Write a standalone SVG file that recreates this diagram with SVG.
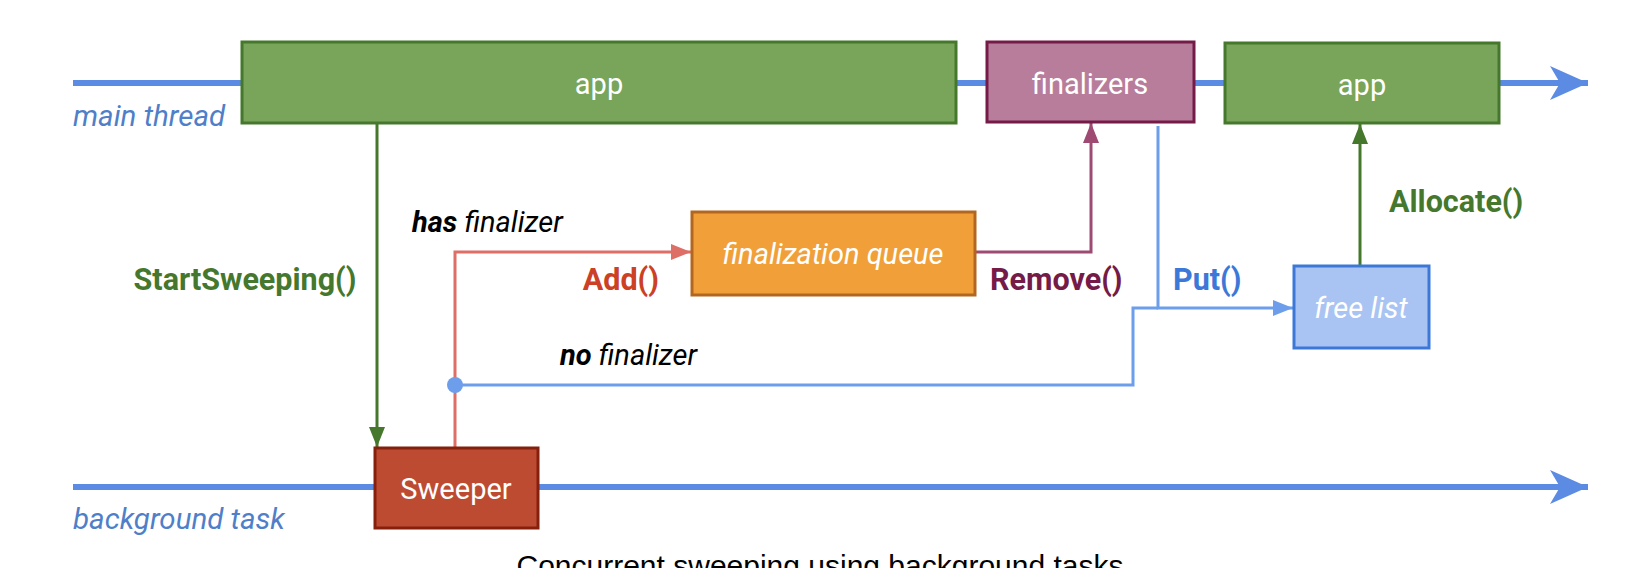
<svg xmlns="http://www.w3.org/2000/svg" width="1632" height="568" viewBox="0 0 1632 568">
<defs>
<style>
text{font-family:Roboto,"Liberation Sans",sans-serif;font-size:29px}
.box-label{fill:#ffffff;text-anchor:middle}
.it{font-style:italic}
.b{font-weight:bold;font-size:30.5px}
.lane{fill:#4f7fc8;font-style:italic;font-size:29.5px}
.timeline{stroke:#5b8be2;stroke-width:6;fill:none}
.conn{fill:none;stroke-width:3}
</style>
<marker id="bigArrow" markerUnits="userSpaceOnUse" viewBox="0 0 40 34" refX="38" refY="17" markerWidth="40" markerHeight="34" orient="auto">
<path d="M0,0 L38,17 L0,34 L10,17 Z" fill="#5b8be2"/>
</marker>
<marker id="aGreen" markerUnits="userSpaceOnUse" viewBox="0 0 20 20" refX="20" refY="10" markerWidth="20" markerHeight="20" orient="auto">
<path d="M0,2 L20,10 L0,18 Z" fill="#45782c"/>
</marker>
<marker id="aRed" markerUnits="userSpaceOnUse" viewBox="0 0 20 20" refX="20" refY="10" markerWidth="20" markerHeight="20" orient="auto">
<path d="M0,2 L20,10 L0,18 Z" fill="#dd6f67"/>
</marker>
<marker id="aPurple" markerUnits="userSpaceOnUse" viewBox="0 0 20 20" refX="20" refY="10" markerWidth="20" markerHeight="20" orient="auto">
<path d="M0,2 L20,10 L0,18 Z" fill="#9e4a73"/>
</marker>
<marker id="aBlue" markerUnits="userSpaceOnUse" viewBox="0 0 20 20" refX="20" refY="10" markerWidth="20" markerHeight="20" orient="auto">
<path d="M0,2 L20,10 L0,18 Z" fill="#6d9eeb"/>
</marker>
</defs>
<rect width="1632" height="568" fill="#ffffff"/>

<g id="timelines">
<line class="timeline" x1="73" y1="83" x2="1588" y2="83" marker-end="url(#bigArrow)"/>
<line class="timeline" x1="73" y1="487" x2="1588" y2="487" marker-end="url(#bigArrow)"/>
<text class="lane" x="73" y="126">main thread</text>
<text class="lane" x="73" y="529">background task</text>
</g>

<g id="connectors">
<line class="conn" x1="377" y1="123" x2="377" y2="447" stroke="#45782c" marker-end="url(#aGreen)"/>
<polyline class="conn" points="455,448 455,252 691,252" stroke="#dd6f67" marker-end="url(#aRed)"/>
<polyline class="conn" points="975,252 1091,252 1091,123" stroke="#9e4a73" marker-end="url(#aPurple)"/>
<polyline class="conn" points="1158,126 1158,308 1293,308" stroke="#6d9eeb" marker-end="url(#aBlue)"/>
<polyline class="conn" points="455,385 1133,385 1133,308 1158,308" stroke="#6d9eeb"/>
<line class="conn" x1="1360" y1="266" x2="1360" y2="124" stroke="#45782c" marker-end="url(#aGreen)"/>
<circle cx="455" cy="385" r="8" fill="#6d9eeb"/>
<text class="b" x="245" y="290" text-anchor="middle" fill="#45782c">StartSweeping()</text>
<text x="412" y="232" fill="#000000"><tspan class="b it" style="font-size:29px">has</tspan><tspan class="it"> finalizer</tspan></text>
<text class="b" x="659" y="290" text-anchor="end" fill="#cc4125">Add()</text>
<text class="b" x="990" y="290" fill="#741b47">Remove()</text>
<text class="b" x="1173" y="290" fill="#3c78d8">Put()</text>
<text class="b" x="1389" y="212" fill="#45782c">Allocate()</text>
<text x="560" y="365" fill="#000000"><tspan class="b it" style="font-size:29px">no</tspan><tspan class="it"> finalizer</tspan></text>
</g>

<g id="app1">
<rect x="242" y="42" width="714" height="81" fill="#78a55a" stroke="#45782c" stroke-width="3"/>
<text class="box-label" x="599" y="94">app</text>
</g>
<g id="finalizers">
<rect x="987" y="42" width="207" height="80" fill="#b77d9b" stroke="#741b47" stroke-width="3"/>
<text class="box-label" x="1090" y="94">finalizers</text>
</g>
<g id="app2">
<rect x="1225" y="43" width="274" height="80" fill="#78a55a" stroke="#45782c" stroke-width="3"/>
<text class="box-label" x="1362" y="95">app</text>
</g>
<g id="finalization-queue">
<rect x="692" y="212" width="283" height="83" fill="#f1a039" stroke="#b4661f" stroke-width="3"/>
<text class="box-label it" x="833" y="264">finalization queue</text>
</g>
<g id="free-list">
<rect x="1294" y="266" width="135" height="82" fill="#a9c4f2" stroke="#3c78d8" stroke-width="3"/>
<text class="box-label it" x="1361" y="318">free list</text>
</g>
<g id="sweeper">
<rect x="375" y="448" width="163" height="80" fill="#bd4b32" stroke="#85200c" stroke-width="3"/>
<text class="box-label" x="456" y="499">Sweeper</text>
</g>

<text x="820" y="576" text-anchor="middle" fill="#000000" style="font-family:'Liberation Sans',sans-serif;font-size:30px">Concurrent sweeping using background tasks</text>
</svg>
